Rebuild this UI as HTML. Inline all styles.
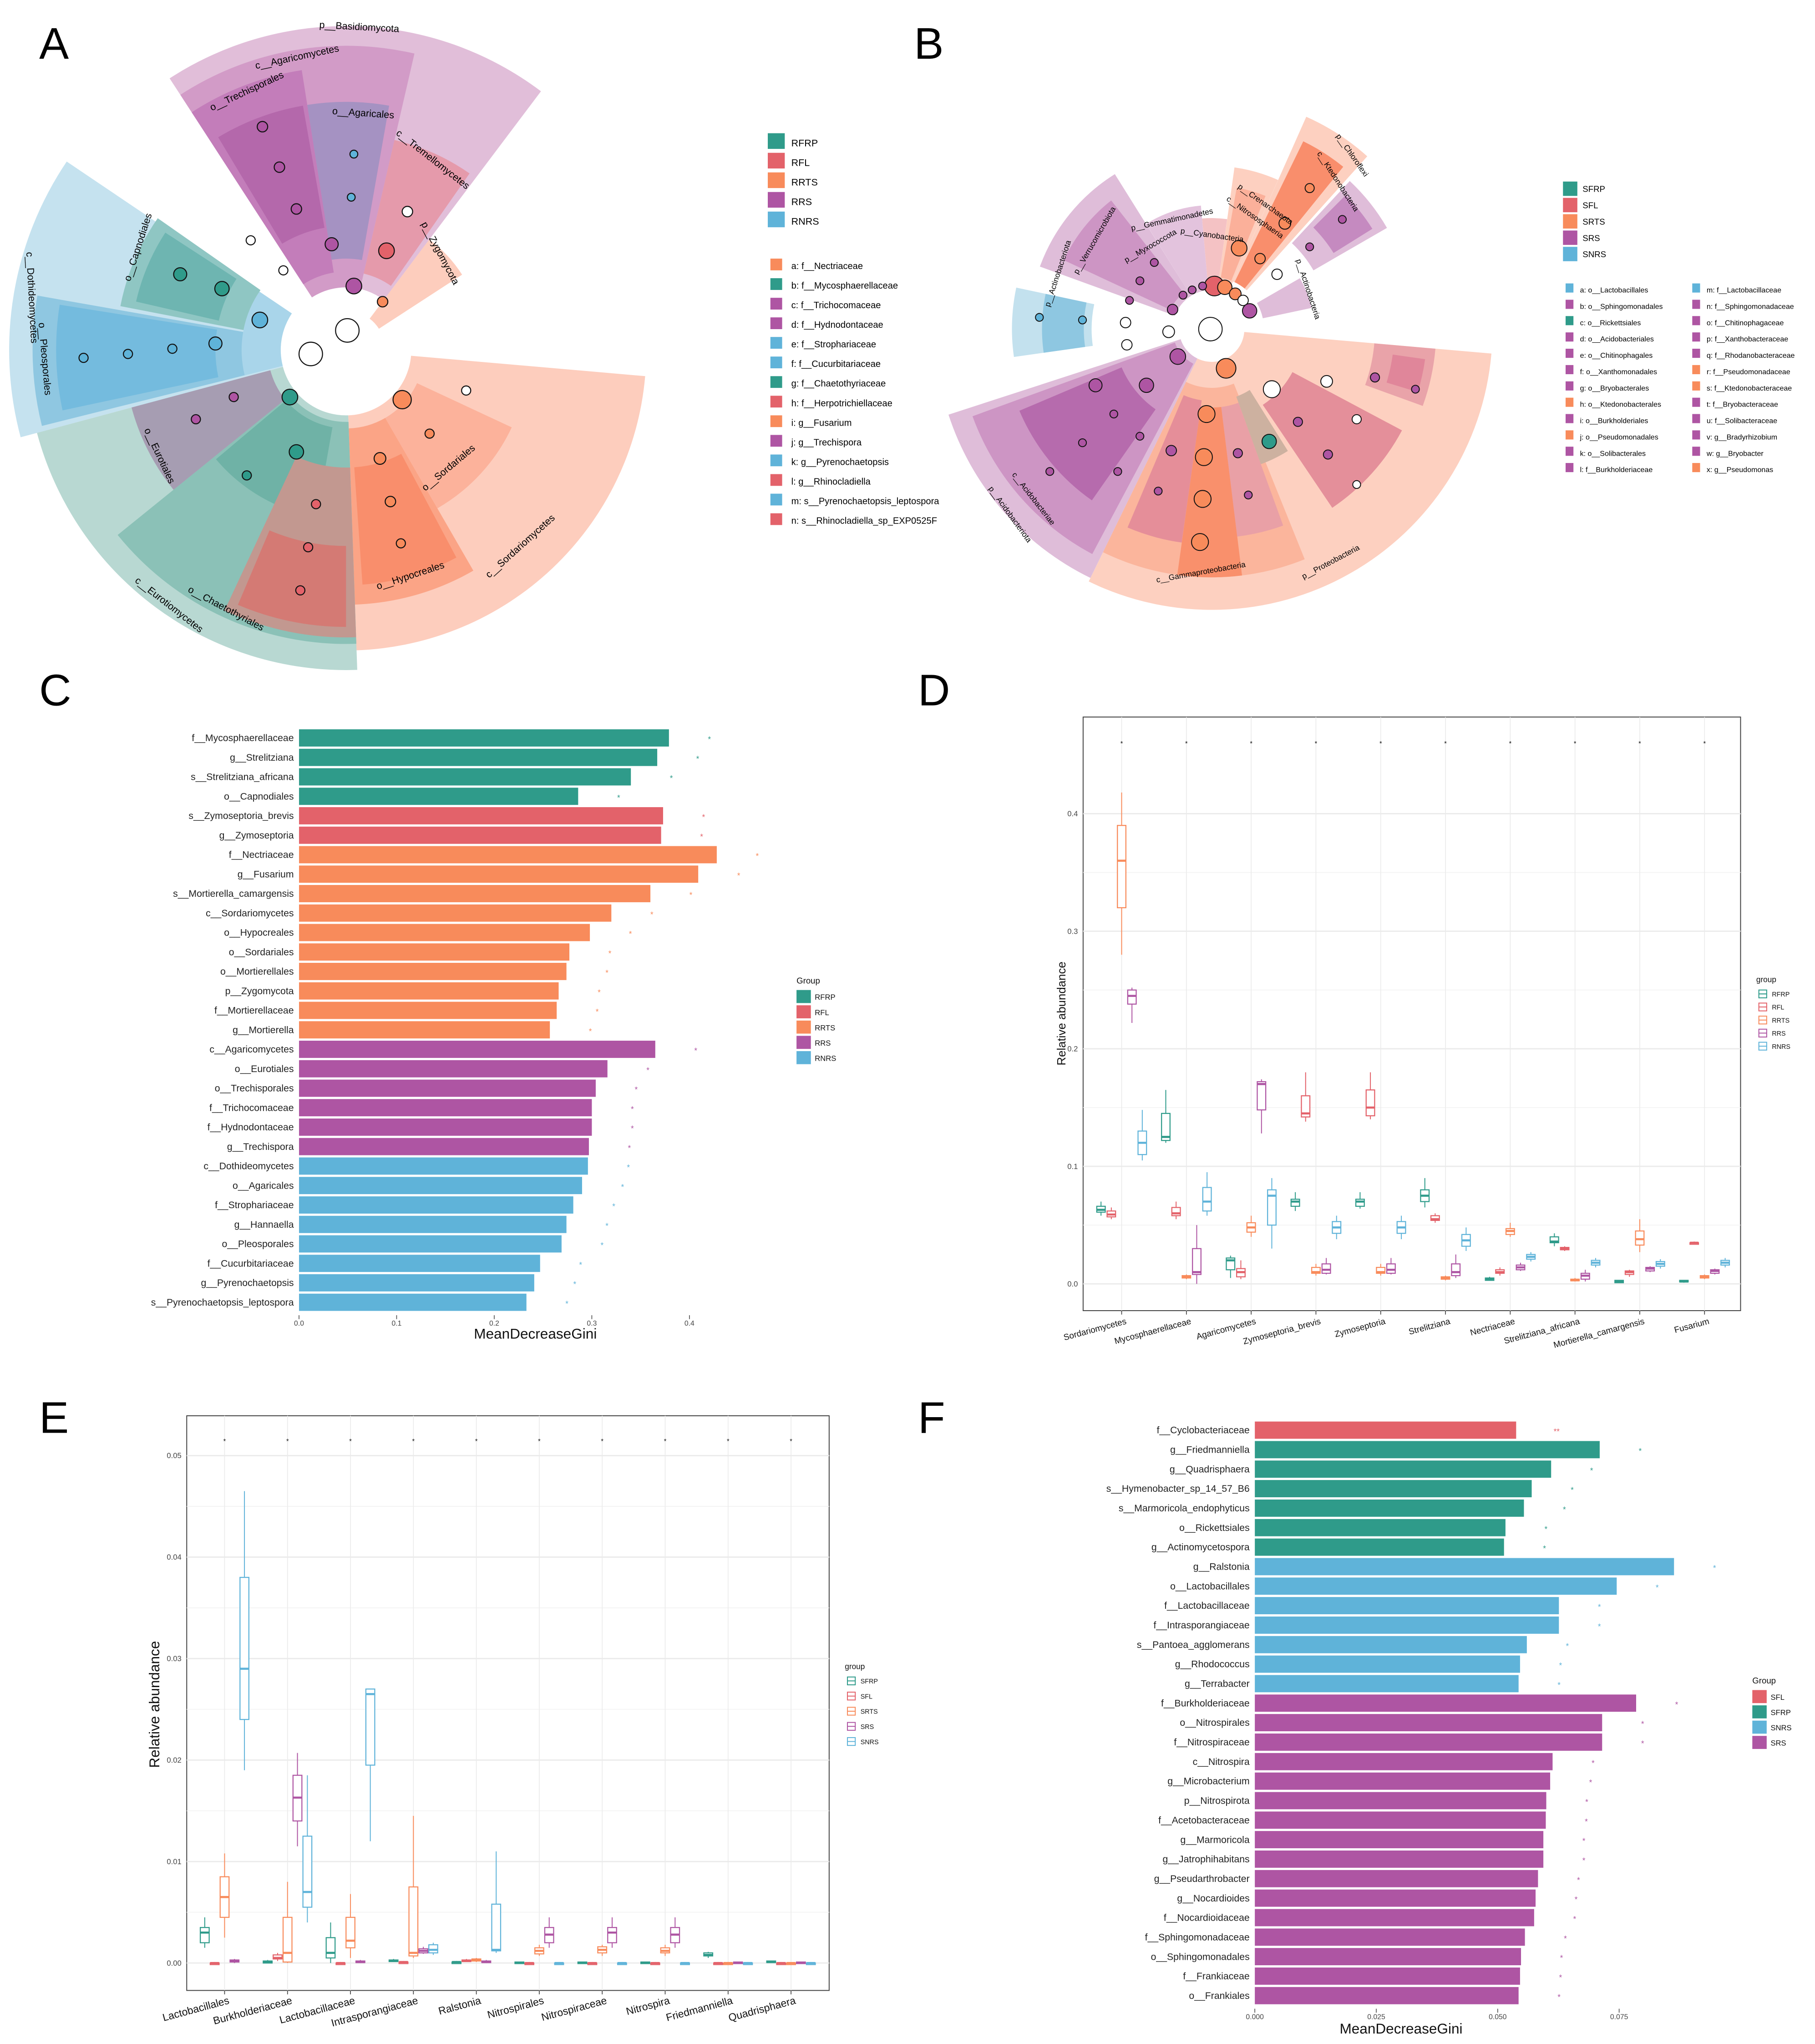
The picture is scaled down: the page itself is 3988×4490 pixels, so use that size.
<!DOCTYPE html>
<html><head><meta charset="utf-8"><style>
html,body{margin:0;padding:0;background:#fff;}
svg{display:block;font-family:"Liberation Sans",Arial,sans-serif;}
</style></head><body>
<svg id="fig" xmlns="http://www.w3.org/2000/svg" width="3988" height="4490" viewBox="0 0 1390 1565" preserveAspectRatio="none">
<rect x="0" y="0" width="1390" height="1565" fill="#fff"/>
<text x="30" y="45" font-size="34">A</text>
<text x="700" y="45" font-size="34">B</text>
<text x="30" y="540" font-size="34">C</text>
<text x="703" y="540" font-size="34">D</text>
<text x="30" y="1097" font-size="34">E</text>
<text x="703" y="1097" font-size="34">F</text>
<g id="pA"></g>
<g id="pB"></g>
<g id="pC"></g>
<g id="pD"></g>
<g id="pE"></g>
<g id="pF"></g>
</svg>
<script>
// ---------- Panel C data ----------
const cLabels = ["f__Mycosphaerellaceae","g__Strelitziana","s__Strelitziana_africana","o__Capnodiales","s__Zymoseptoria_brevis","g__Zymoseptoria","f__Nectriaceae","g__Fusarium","s__Mortierella_camargensis","c__Sordariomycetes","o__Hypocreales","o__Sordariales","o__Mortierellales","p__Zygomycota","f__Mortierellaceae","g__Mortierella","c__Agaricomycetes","o__Eurotiales","o__Trechisporales","f__Trichocomaceae","f__Hydnodontaceae","g__Trechispora","c__Dothideomycetes","o__Agaricales","f__Strophariaceae","g__Hannaella","o__Pleosporales","f__Cucurbitariaceae","g__Pyrenochaetopsis","s__Pyrenochaetopsis_leptospora"];
const cValues = [0.379,0.367,0.340,0.286,0.373,0.371,0.428,0.409,0.360,0.320,0.298,0.277,0.274,0.266,0.264,0.257,0.365,0.316,0.304,0.300,0.300,0.297,0.296,0.290,0.281,0.274,0.269,0.247,0.241,0.233];
const cGroups = [0,0,0,0,1,1,2,2,2,2,2,2,2,2,2,2,3,3,3,3,3,3,4,4,4,4,4,4,4,4];
const cTicks = [0,0.1,0.2,0.3,0.4];
const cGroupNames = ["RFRP","RFL","RRTS","RRS","RNRS"];
// ---------- Panel F data ----------
const fLabels = ["f__Cyclobacteriaceae","g__Friedmanniella","g__Quadrisphaera","s__Hymenobacter_sp_14_57_B6","s__Marmoricola_endophyticus","o__Rickettsiales","g__Actinomycetospora","g__Ralstonia","o__Lactobacillales","f__Lactobacillaceae","f__Intrasporangiaceae","s__Pantoea_agglomerans","g__Rhodococcus","g__Terrabacter","f__Burkholderiaceae","o__Nitrospirales","f__Nitrospiraceae","c__Nitrospira","g__Microbacterium","p__Nitrospirota","f__Acetobacteraceae","g__Marmoricola","g__Jatrophihabitans","g__Pseudarthrobacter","g__Nocardioides","f__Nocardioidaceae","f__Sphingomonadaceae","o__Sphingomonadales","f__Frankiaceae","o__Frankiales"];
const fValues = [0.0538,0.0710,0.0610,0.0570,0.0554,0.0516,0.0513,0.0863,0.0745,0.0626,0.0626,0.0560,0.0546,0.0543,0.0785,0.0715,0.0715,0.0613,0.0608,0.0600,0.0599,0.0594,0.0594,0.0583,0.0578,0.0575,0.0556,0.0548,0.0546,0.0543];
const fGroups = [0,1,1,1,1,1,1,2,2,2,2,2,2,2,3,3,3,3,3,3,3,3,3,3,3,3,3,3,3,3];
const fTicks = [0,0.025,0.05,0.075];
const fTickLabels = ["0.000","0.025","0.050","0.075"];
const fGroupNames = ["SFL","SFRP","SNRS","SRS"];
// ---------- Panel D data: [low, q1, median, q3, high] ----------
const dCats = ["Sordariomycetes","Mycosphaerellaceae","Agaricomycetes","Zymoseptoria_brevis","Zymoseptoria","Strelitziana","Nectriaceae","Strelitziana_africana","Mortierella_camargensis","Fusarium"];
const dRFRP = [[.058,.061,.063,.066,.07],[.12,.122,.125,.145,.165],[.005,.012,.02,.022,.024],[.062,.066,.07,.072,.078],[.064,.066,.07,.072,.078],[.065,.07,.075,.08,.09],[.003,.003,.004,.005,.006],[.032,.035,.036,.04,.043],[.001,.001,.002,.003,.003],[.001,.002,.002,.003,.003]];
const dRFL = [[.055,.057,.059,.062,.065],[.055,.058,.06,.065,.07],[.004,.006,.01,.013,.02],[.138,.142,.145,.16,.18],[.14,.143,.15,.165,.18],[.052,.054,.055,.058,.06],[.007,.009,.01,.012,.014],[.028,.029,.03,.031,.032],[.006,.008,.01,.011,.012],[.034,.035,.035,.035,.036]];
const dRRTS = [[.28,.32,.36,.39,.418],[.004,.005,.006,.007,.008],[.04,.044,.048,.052,.058],[.007,.009,.01,.014,.017],[.007,.009,.01,.014,.017],[.003,.004,.005,.006,.007],[.04,.042,.045,.047,.052],[.002,.003,.003,.004,.005],[.027,.033,.038,.045,.055],[.004,.005,.006,.007,.008]];
const dRRS = [[.222,.238,.245,.25,.252],[0,.008,.01,.03,.05],[.128,.148,.17,.172,.174],[.008,.009,.012,.017,.022],[.008,.009,.012,.017,.022],[.005,.007,.01,.017,.025],[.011,.012,.014,.016,.018],[.002,.004,.007,.009,.012],[.01,.011,.013,.014,.015],[.008,.009,.011,.012,.013]];
const dRNRS = [[.105,.11,.12,.13,.148],[.058,.062,.07,.082,.095],[.03,.05,.075,.08,.09],[.038,.043,.048,.053,.058],[.038,.043,.048,.053,.058],[.028,.032,.037,.042,.048],[.019,.021,.023,.025,.027],[.014,.016,.018,.02,.022],[.013,.015,.017,.019,.021],[.014,.016,.018,.02,.022]];
const dTicks = [0,0.1,0.2,0.3,0.4];
const dTickLabels = ["0.0","0.1","0.2","0.3","0.4"];
const dGroupNames = ["RFRP","RFL","RRTS","RRS","RNRS"];
// ---------- Panel E data ----------
const eCats = ["Lactobacillales","Burkholderiaceae","Lactobacillaceae","Intrasporangiaceae","Ralstonia","Nitrospirales","Nitrospiraceae","Nitrospira","Friedmanniella","Quadrisphaera"];
const eSFRP = [[.0015,.002,.003,.0035,.0045],[0,0,.0001,.0002,.0003],[0,.0005,.001,.0025,.004],[.0001,.0002,.0002,.0003,.0004],[0,.0001,.0001,.0001,.0002],[0,0,0,.0001,.0001],[0,0,0,.0001,.0001],[0,0,0,.0001,.0001],[.0005,.0007,.0008,.001,.0011],[0,.0001,.0001,.0002,.0002]];
const eSFL = [[0,0,0,0,.0001],[.0002,.0004,.0005,.0008,.001],[0,0,0,0,.0001],[0,.0001,.0001,.0001,.0002],[.0001,.0002,.0002,.0003,.0004],[0,0,0,0,.0001],[0,0,0,0,.0001],[0,0,0,0,.0001],[0,0,0,0,.0001],[0,0,0,0,.0001]];
const eSRTS = [[.0025,.0045,.0065,.0085,.0108],[0,.0001,.001,.0045,.008],[.0005,.0015,.0022,.0045,.0068],[.0005,.0007,.001,.0075,.0145],[.0001,.0002,.0003,.0004,.0005],[.0007,.0009,.0012,.0015,.0018],[.0007,.001,.0013,.0016,.0018],[.0007,.001,.0012,.0015,.0018],[0,0,0,0,.0001],[0,0,0,0,0]];
const eSRS = [[0,.0001,.0002,.0003,.0004],[.0115,.014,.0163,.0185,.0207],[0,.0001,.0001,.0002,.0003],[.0009,.001,.0012,.0014,.0016],[0,.0001,.0001,.0002,.0003],[.0015,.002,.0028,.0035,.0045],[.0015,.002,.003,.0035,.0045],[.0015,.002,.0028,.0035,.0045],[0,0,0,.0001,.0001],[0,0,0,.0001,.0001]];
const eSNRS = [[.019,.024,.029,.038,.0465],[.004,.0055,.007,.0125,.0185],[.012,.0195,.0265,.027,.027],[.0008,.001,.0013,.0018,.002],[.001,.0012,.0013,.0058,.011],[0,0,0,0,.0001],[0,0,0,0,.0001],[0,0,0,0,.0001],[0,0,0,0,.0001],[0,0,0,0,.0001]];
const eTicks = [0,0.01,0.02,0.03,0.04,0.05];
const eTickLabels = ["0.00","0.01","0.02","0.03","0.04","0.05"];
const eGroupNames = ["SFRP","SFL","SRTS","SRS","SNRS"];

const NS = 'http://www.w3.org/2000/svg';
const TEAL='#2f9b8a', RED='#e3626a', ORANGE='#f88b5b', PURPLE='#ae55a3', BLUE='#5fb3d9';
function el(tag, parent, attrs, txt){
  const e = document.createElementNS(NS, tag);
  for (const k in attrs) e.setAttribute(k, attrs[k]);
  if (txt !== undefined) e.textContent = txt;
  parent.appendChild(e);
  return e;
}
function sectorPath(cx,cy,r0,r1,a0,a1){
  const t0=a0*Math.PI/180, t1=a1*Math.PI/180, big=(a1-a0)>180?1:0;
  const p=(r,t)=>(cx+r*Math.cos(t)).toFixed(1)+' '+(cy+r*Math.sin(t)).toFixed(1);
  return 'M'+p(r1,t0)+' A'+r1+' '+r1+' 0 '+big+' 1 '+p(r1,t1)+' L'+p(r0,t1)+' A'+r0+' '+r0+' 0 '+big+' 0 '+p(r0,t0)+' Z';
}

// ---------- Panel A cladogram ----------
(function(){
  const g = document.getElementById('pA');
  const C=[265,268];
  const secs=[
    [48,248,-123,-53,'#e1bed9'],[48,233,-123,-77,'#d29bc7'],[60,217,-123,-99,'#c37dba'],[95,190,-121,-100,'#b468ab'],
    [70,190,-99,-80,'#a592c2'],[60,165,-77,-55,'#e59aab'],[30,106,-53,-33,'#fdcdbd'],
    [50,230,5,88,'#fdcdbd'],[60,140,25,60,'#fcb29b'],[60,195,60,88,'#fba486'],[90,180,62,86,'#f98e6c'],
    [50,245,88,165,'#b8d8d2'],[55,225,88,141,'#8bc1b7'],[60,130,100,140,'#6fb2a6'],[90,220,88,115,'#c29890'],[150,212,90,113,'#d47a74'],
    [60,170,141,166,'#a69db2'],
    [50,258,165,214,'#c5e2ef'],[60,240,166,190,'#8fc7e1'],[100,222,168,189,'#74bbde'],[80,176,191,215,'#8fc6c3'],[100,165,193,213,'#6eb5b1'],[50,80,166,214,'#a9d5ea']
  ];
  secs.forEach(s=>{
    const p=el('path',g,{d:sectorPath(C[0],C[1],s[0],s[1],s[2],s[3]),fill:s[4]});
    
    
  });
  const nodes=[[266,253,9,'#fff'],[238,271,9,'#fff'],[271,219,6,PURPLE],[254,187,5,PURPLE],[227,160,4,PURPLE],[214,128,4,PURPLE],[201,97,4,PURPLE],[269,151,3,BLUE],[271,118,3,BLUE],[296,192,6,RED],[312,162,4,'#fff'],[293,231,4,ORANGE],[217,207,3.5,'#fff'],[192,184,3.5,'#fff'],[199,245,6,BLUE],[170,221,5.5,TEAL],[138,210,5,TEAL],[165,263,5,BLUE],[132,267,3.5,BLUE],[98,271,3.5,BLUE],[64,274,3.5,BLUE],[222,304,6,TEAL],[179,304,3.5,PURPLE],[150,321,3.5,PURPLE],[227,346,5.5,TEAL],[189,364,3.5,TEAL],[242,386,3.5,RED],[236,419,3.5,RED],[230,452,3.5,RED],[308,306,7,ORANGE],[357,299,3.5,'#fff'],[329,332,3.5,ORANGE],[291,351,4.5,ORANGE],[299,384,4,ORANGE],[307,416,3.5,ORANGE]];
  nodes.forEach(n=>{
    const c=el('circle',g,{cx:n[0],cy:n[1],r:n[2],fill:n[3],stroke:'#111','stroke-width':0.8});
    
    
  });
  const labels=[["p__Basidiomycota",275,23,3],["c__Agaricomycetes",228,46,-12],["o__Trechisporales",190,72,-25],["o__Agaricales",278,89,4],["c__Tremellomycetes",330,124,38],["p__Zygomycota",335,195,62],["c__Dothideomycetes",22,228,87],["o__Capnodiales",108,190,-72],["o__Pleosporales",32,275,85],["o__Eurotiales",120,350,65],["o__Sordariales",345,360,-40],["c__Sordariomycetes",400,420,-42],["o__Hypocreales",315,443,-18],["o__Chaetothyriales",172,468,28],["c__Eurotiomycetes",128,465,38]];
  labels.forEach(l=>{
    const t=el('text',g,{x:l[1],y:l[2],'font-size':7.5,'text-anchor':'middle',transform:'rotate('+l[3]+' '+l[1]+' '+l[2]+')'},l[0]);
    
    
  });
  const grp=[["RFRP",TEAL],["RFL",RED],["RRTS",ORANGE],["RRS",PURPLE],["RNRS",BLUE]];
  grp.forEach((q,i)=>{
    const r=el('rect',g,{x:588,y:102+i*15,width:13,height:12,fill:q[1]});
    
    
    const t=el('text',g,{x:606,y:112+i*15,'font-size':7.5},q[0]);
    
    
  });
  const items=[["a: f__Nectriaceae",ORANGE],["b: f__Mycosphaerellaceae",TEAL],["c: f__Trichocomaceae",PURPLE],["d: f__Hydnodontaceae",PURPLE],["e: f__Strophariaceae",BLUE],["f: f__Cucurbitariaceae",BLUE],["g: f__Chaetothyriaceae",TEAL],["h: f__Herpotrichiellaceae",RED],["i: g__Fusarium",ORANGE],["j: g__Trechispora",PURPLE],["k: g__Pyrenochaetopsis",BLUE],["l: g__Rhinocladiella",RED],["m: s__Pyrenochaetopsis_leptospora",BLUE],["n: s__Rhinocladiella_sp_EXP0525F",RED]];
  items.forEach((q,i)=>{
    const r=el('rect',g,{x:590,y:198+i*15,width:9,height:9,fill:q[1]});
    
    
    const t=el('text',g,{x:606,y:206+i*15,'font-size':7},q[0]);
    
    
  });
})();

// ---------- Panel B cladogram ----------
(function(){
  const g=document.getElementById('pB');
  const C=[928,252];
  const secs=[
    [25,215,5,116,'#fdd0c0'],[45,190,68,116,'#fbb59c'],[60,190,83,98,'#f9906c'],[55,165,98,113,'#e58e99'],[55,110,58,70,'#cdb1a0'],[60,160,70,83,'#e9a0a6'],
    [70,165,28,56,'#e48f9a'],[125,172,5,20,'#e9a3a9'],[140,165,8,17,'#e0869a'],
    [25,212,116,162,'#dfbdd9'],[30,195,118,160,'#cd95c4'],[75,160,125,157,'#b66bad'],
    [92,153,172,192,'#c3e1ee'],[98,130,172,192,'#8ec7e1'],
    [30,140,-160,-122,'#dfbdd9'],[35,125,-155,-128,'#cd95c4'],[30,95,-122,-95,'#e3c3dd'],[30,85,-95,-82,'#f4c2c4'],
    [30,125,-82,-66,'#fdd0c0'],[40,110,-80,-68,'#fbb09a'],[40,178,-66,-48,'#fdd0c0'],[40,160,-64,-51,'#f98e6c'],
    [90,155,-47,-30,'#dfbdd9'],[110,145,-45,-32,'#c58ac0'],[40,78,-30,-12,'#dfbdd9']
  ];
  secs.forEach(s=>{
    const p=el('path',g,{d:sectorPath(C[0],C[1],s[0],s[1],s[2],s[3]),fill:s[4]});
    
    
  });
  const nodes=[[927,252,9,'#fff'],[895,254,4.5,'#fff'],[862,247,4,'#fff'],[863,264,4,'#fff'],[829,245,3,BLUE],[796,243,3,BLUE],[930,219,7.5,RED],[938,220,5.5,ORANGE],[946,225,4.5,ORANGE],[952,230,4,'#fff'],[957,238,5.5,PURPLE],[978,210,4,'#fff'],[949,190,6,ORANGE],[965,198,4,ORANGE],[984,171,4.5,ORANGE],[1003,144,3.5,ORANGE],[1003,189,3,PURPLE],[1028,168,3,PURPLE],[898,237,4,PURPLE],[865,230,3,PURPLE],[873,215,3,PURPLE],[884,201,3,PURPLE],[906,226,3,PURPLE],[913,222,3,PURPLE],[921,219,3,PURPLE],[902,273,6,PURPLE],[878,295,5.5,PURPLE],[839,295,5,PURPLE],[853,317,3,PURPLE],[829,339,3,PURPLE],[804,361,3,PURPLE],[873,334,3,PURPLE],[856,361,3,PURPLE],[939,282,7.5,ORANGE],[974,298,6.5,'#fff'],[1016,292,4.5,'#fff'],[1053,289,3.5,PURPLE],[1084,298,3,PURPLE],[1039,321,3.5,'#fff'],[924,317,6.5,ORANGE],[922,350,6.5,ORANGE],[921,382,6.5,ORANGE],[919,415,6.5,ORANGE],[897,345,4,PURPLE],[948,347,3.5,PURPLE],[972,338,5.5,TEAL],[994,323,3.5,PURPLE],[1017,348,3.5,PURPLE],[1039,371,3,'#fff'],[887,376,3,PURPLE],[956,379,3,PURPLE]];
  nodes.forEach(n=>{
    const c=el('circle',g,{cx:n[0],cy:n[1],r:n[2],fill:n[3],stroke:'#111','stroke-width':0.7});
    
    
  });
  const labels=[["p__Proteobacteria",1020,432,-28],["c__Gammaproteobacteria",920,440,-10],["c__Acidobacteriae",790,383,52],["p__Acidobacteriota",772,395,54],["p__Actinobacteriota",812,210,-72],["p__Verrucomicrobiota",840,185,-60],["p__Chloroflexi",1034,120,55],["c__Ktedonobacteria",1023,140,57],["p__Crenarchaeota",968,158,35],["c__Nitrososphaeria",960,168,35],["p__Gemmatimonadetes",898,170,-12],["p__Cyanobacteria",928,182,8],["p__Myxococcota",882,190,-30],["p__Actinobacteria",1000,222,72]];
  labels.forEach(l=>{
    const t=el('text',g,{x:l[1],y:l[2],'font-size':6,'text-anchor':'middle',transform:'rotate('+l[3]+' '+l[1]+' '+l[2]+')'},l[0]);
    
    
  });
  const grp=[["SFRP",TEAL],["SFL",RED],["SRTS",ORANGE],["SRS",PURPLE],["SNRS",BLUE]];
  grp.forEach((q,i)=>{
    const r=el('rect',g,{x:1197,y:139+i*12.5,width:11,height:11,fill:q[1]});
    
    
    const t=el('text',g,{x:1212,y:147+i*12.5,'font-size':6.5},q[0]);
    
    
  });
  const left=[["a: o__Lactobacillales",BLUE],["b: o__Sphingomonadales",PURPLE],["c: o__Rickettsiales",TEAL],["d: o__Acidobacteriales",PURPLE],["e: o__Chitinophagales",PURPLE],["f: o__Xanthomonadales",PURPLE],["g: o__Bryobacterales",PURPLE],["h: o__Ktedonobacterales",ORANGE],["i: o__Burkholderiales",PURPLE],["j: o__Pseudomonadales",ORANGE],["k: o__Solibacterales",PURPLE],["l: f__Burkholderiaceae",PURPLE]];
  const right=[["m: f__Lactobacillaceae",BLUE],["n: f__Sphingomonadaceae",PURPLE],["o: f__Chitinophagaceae",PURPLE],["p: f__Xanthobacteraceae",PURPLE],["q: f__Rhodanobacteraceae",PURPLE],["r: f__Pseudomonadaceae",ORANGE],["s: f__Ktedonobacteraceae",ORANGE],["t: f__Bryobacteraceae",PURPLE],["u: f__Solibacteraceae",PURPLE],["v: g__Bradyrhizobium",PURPLE],["w: g__Bryobacter",PURPLE],["x: g__Pseudomonas",ORANGE]];
  [[left,1199],[right,1296]].forEach(col=>{
    col[0].forEach((q,i)=>{
      const r=el('rect',g,{x:col[1],y:217+i*12.5,width:6,height:7,fill:q[1]});
      
      
      const t=el('text',g,{x:col[1]+11,y:224+i*12.5,'font-size':5.6},q[0]);
      
      
    });
  });
})();

// ---------- Bar charts ----------
function barChart(gid, labels, values, groups, colors, x0, scale, yc0, step, ticks, tickLabels, tickY, titleX, titleY, starChars, legend){
  const g=document.getElementById(gid);
  const xs=v=>x0+v*scale;
  const yc=i=>yc0+i*step;
  labels.forEach((lab,i)=>{
    const r=el('rect',g,{x:xs(0),y:yc(i)-6.6,width:xs(values[i])-xs(0),height:13.2,fill:colors[groups[i]]});
    
    
    const t=el('text',g,{x:x0-4,y:yc(i)+2.5,'font-size':7.4,'text-anchor':'end',fill:'#222'},lab);
    
    
    const s=el('text',g,{x:xs(values[i])+31,y:yc(i)+3,'font-size':6,'text-anchor':'middle',fill:colors[groups[i]]},starChars[i]);
    
    
  });
  ticks.forEach((v,i)=>{
    const l=el('line',g,{x1:xs(v),x2:xs(v),y1:tickY-8,y2:tickY-5,stroke:'#555','stroke-width':0.6});
    
    
    const t=el('text',g,{x:xs(v),y:tickY,'font-size':5.5,'text-anchor':'middle',fill:'#444'},tickLabels[i]);
    
    
  });
  const tt=el('text',g,{x:titleX,y:titleY,'font-size':11,'text-anchor':'middle',fill:'#111'},'MeanDecreaseGini');
  
  
  const lt=el('text',g,{x:legend.x,y:legend.y,'font-size':6.5,fill:'#111'},'Group');
  
  
  legend.names.forEach((n,i)=>{
    const r=el('rect',g,{x:legend.x,y:legend.y+5+i*11.7,width:11,height:10,fill:colors[i]});
    
    
    const t=el('text',g,{x:legend.x+14,y:legend.y+12.5+i*11.7,'font-size':5.8,fill:'#111'},n);
    
    
  });
}
barChart('pC',cLabels,cValues,cGroups,[TEAL,RED,ORANGE,PURPLE,BLUE],229,747.5,565,14.9,cTicks,["0.0","0.1","0.2","0.3","0.4"],1015,410,1025,cLabels.map(()=> '*'),{x:610,y:753,names:cGroupNames});
barChart('pF',fLabels,fValues,fGroups,[RED,TEAL,BLUE,PURPLE],961,3720,1095,14.93,fTicks,fTickLabels,1546,1073,1557,fLabels.map((_,i)=>i===0?'**':'*'),{x:1342,y:1289,names:fGroupNames});

// ---------- Box plots ----------
function boxPlot(gid, cats, series, colors, names, frame, y0, yScale, cx0, cstep, off, bw, ticks, tickLabels, starY, legendPos, labelSize){
  const g=document.getElementById(gid);
  const ys=v=>y0-v*yScale;
  const xc=i=>cx0+i*cstep;
  const fr=el('rect',g,{x:frame[0],y:frame[1],width:frame[2]-frame[0],height:frame[3]-frame[1],fill:'#fff',stroke:'#444','stroke-width':0.7});
  
  
  ticks.forEach((v,i)=>{
    const l=el('line',g,{x1:frame[0],x2:frame[2],y1:ys(v),y2:ys(v),stroke:'#ebebeb','stroke-width':1});
    
    
    if(i<ticks.length-1){
      const m=(ticks[i]+ticks[i+1])/2;
      const l2=el('line',g,{x1:frame[0],x2:frame[2],y1:ys(m),y2:ys(m),stroke:'#f3f3f3','stroke-width':0.6});
      
      
    }
    const t=el('text',g,{x:frame[0]-4,y:ys(v)+2,'font-size':5.8,'text-anchor':'end',fill:'#444'},tickLabels[i]);
    
    
  });
  cats.forEach((c,i)=>{
    const l=el('line',g,{x1:xc(i),x2:xc(i),y1:frame[1],y2:frame[3],stroke:'#ebebeb','stroke-width':0.6});
    
    
    const tk=el('line',g,{x1:xc(i),x2:xc(i),y1:frame[3],y2:frame[3]+3,stroke:'#444','stroke-width':0.6});
    
    
    const tx=xc(i)+4, ty=frame[3]+10;
    const t=el('text',g,{x:tx,y:ty,'font-size':labelSize,'text-anchor':'end',fill:'#111',transform:'rotate(-15 '+tx+' '+ty+')'},c);
    
    
    const s=el('text',g,{x:xc(i),y:starY+2,'font-size':5,'text-anchor':'middle',fill:'#111'},'*');
    
    
  });
  series.forEach((ser,k)=>{
    ser.forEach((b,i)=>{
      const x=xc(i)+(k-2)*off;
      const col=colors[k];
      const w=el('line',g,{x1:x,x2:x,y1:ys(b[0]),y2:ys(b[4]),stroke:col,'stroke-width':0.7});
      
      
      const h=Math.max(ys(b[1])-ys(b[3]),1.2);
      const r=el('rect',g,{x:x-bw/2,y:ys(b[3]),width:bw,height:h,fill:'#fff',stroke:col,'stroke-width':0.8});
      
      
      const m=el('line',g,{x1:x-bw/2,x2:x+bw/2,y1:ys(b[2]),y2:ys(b[2]),stroke:col,'stroke-width':1.6});
      
      
    });
  });
  const lt=el('text',g,{x:legendPos[0],y:legendPos[1],'font-size':6,fill:'#111'},'group');
  
  
  names.forEach((n,k)=>{
    const yy=legendPos[1]+6+k*legendPos[2];
    const r=el('rect',g,{x:legendPos[0]+2,y:yy,width:6,height:6,fill:'#fff',stroke:colors[k],'stroke-width':0.7});
    
    
    const ml=el('line',g,{x1:legendPos[0]+2,x2:legendPos[0]+8,y1:yy+3,y2:yy+3,stroke:colors[k],'stroke-width':0.7});
    
    
    const t=el('text',g,{x:legendPos[0]+12,y:yy+5,'font-size':5,fill:'#111'},n);
    
    
  });
}
boxPlot('pD',dCats,[dRFRP,dRFL,dRRTS,dRRS,dRNRS],[TEAL,RED,ORANGE,PURPLE,BLUE],dGroupNames,[829.5,549,1333,1003.5],983,900,859,49.6,7.9,6.5,dTicks,dTickLabels,569,[1345,752,10],6.6);
boxPlot('pE',eCats,[eSFRP,eSFL,eSRTS,eSRS,eSNRS],[TEAL,RED,ORANGE,PURPLE,BLUE],eGroupNames,[143,1084,635,1524],1503,7770,172,48.2,7.6,6.8,eTicks,eTickLabels,1103,[647,1278,11.6],8);
(function(){
  const d=document.getElementById('pD');
  const t=el('text',d,{x:816,y:776,'font-size':9,'text-anchor':'middle',fill:'#111',transform:'rotate(-90 816 776)'},'Relative abundance');
  
  
  const e=document.getElementById('pE');
  const t2=el('text',e,{x:122,y:1305,'font-size':11,'text-anchor':'middle',fill:'#111',transform:'rotate(-90 122 1305)'},'Relative abundance');
  
  
})();
</script>
</body></html>
